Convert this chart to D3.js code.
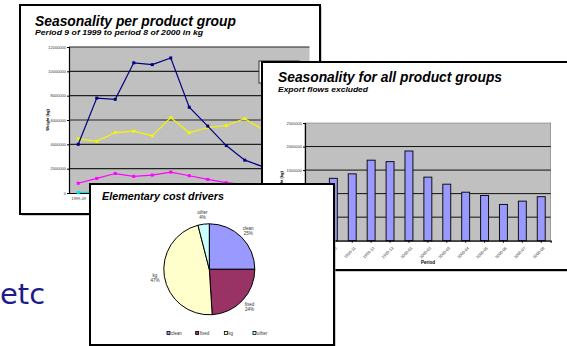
<!DOCTYPE html>
<html>
<head>
<meta charset="utf-8">
<script src="https://cdn.jsdelivr.net/npm/d3@7"></script>
<style>
  html, body { margin: 0; padding: 0; background: #fff; }
  svg { display: block; }
</style>
</head>
<body>
<script>
// Data
const periods = ["1999-09", "1999-10", "1999-11", "1999-12", "1999-13", "2000-01", "2000-02",
  "2000-03", "2000-04", "2000-05", "2000-06", "2000-07", "2000-08"];

// line chart: weight per product group (kg)
const groupNavy = [4.0, 7.8, 7.7, 10.7, 10.55, 11.1, 7.05, 5.5, 3.9, 2.7, 2.15, 1.6, 1.3].map(v => v * 1e6);
const groupYellow = [4.45, 4.25, 4.97, 5.08, 4.7, 6.2, 4.95, 5.38, 5.55, 6.1, 5.2, 5.6, 5.0].map(v => v * 1e6);
const groupMagenta = [0.8, 1.2, 1.6, 1.37, 1.47, 1.72, 1.42, 1.12, 0.85, 0.7, 0.6, 0.7, 0.6].map(v => v * 1e6);
const groupCyan = [0.05, 0.05, 0.05, 0.05, 0.05, 0.05, 0.05, 0.05, 0.05, 0.05, 0.05, 0.05, 0.05].map(v => v * 1e6);
const lineTicks = [0, 2000000, 4000000, 6000000, 8000000, 10000000, 12000000];

// bar chart: all product groups, export excluded (kg)
const totalWeight = [1.0, 1.325, 1.42, 1.71, 1.68, 1.905, 1.35, 1.2, 1.03, 0.96, 0.77, 0.84, 0.935].map(v => v * 1e6);
const barTicks = [0, 500000, 1000000, 1500000, 2000000, 2500000];

// pie: elementary cost drivers (%)
const drivers = ["clean", "fixed", "kg", "other"];
const driverShare = [25, 24, 47, 4];
const driverColors = ["#9999ff", "#993366", "#ffffcc", "#ccffff"];

const svg = d3.select("body")
  .append("svg")
    .attr("width", 567)
    .attr("height", 346);

const tiny = "Liberation Sans, Arial, sans-serif";

// a "slide": white card with thick black frame
function slide(x, y, w, h) {
  const g = svg.append("g");
  g.append("rect")
    .attr("x", x + 1.5).attr("y", y + 1.5)
    .attr("width", w).attr("height", h)
    .attr("fill", "#9a9a9a");
  g.append("rect")
    .attr("x", x).attr("y", y)
    .attr("width", w).attr("height", h)
    .attr("fill", "#fff")
    .attr("stroke", "#000")
    .attr("stroke-width", 2);
  return g;
}

function title(g, text, x, y, size, width) {
  g.append("text")
    .text(text)
    .attr("x", x).attr("y", y)
    .attr("textLength", width)
    .attr("lengthAdjust", "spacingAndGlyphs")
    .style("font-family", tiny)
    .style("font-weight", "bold")
    .style("font-style", "italic")
    .style("font-size", size + "px");
}

// ---------- Slide 1: line chart ----------
const s1 = slide(20, 5, 300, 209);
title(s1, "Seasonality per product group", 35, 26, 15, 201);
title(s1, "Period 9 of 1999 to period 8 of 2000 in kg", 35, 35, 8, 168);

const x1 = d3.scalePoint().domain(periods).range([69, 309.5]).padding(0.5);
const y1 = d3.scaleLinear().domain([0, 12000000]).range([193, 47]);

s1.append("rect")
  .attr("x", 69).attr("y", y1(12000000))
  .attr("width", 240.5).attr("height", y1(0) - y1(12000000))
  .attr("fill", "#c0c0c0");

s1.selectAll(".grid1")
  .data(lineTicks.slice(1))
  .join("line")
    .attr("x1", 69).attr("x2", 309.5)
    .attr("y1", d => y1(d)).attr("y2", d => y1(d))
    .attr("stroke", "#222")
    .attr("stroke-width", 1.2);

const axisY1 = s1.append("g")
  .attr("transform", "translate(69,0)")
  .call(d3.axisLeft(y1).tickValues(lineTicks).tickFormat(d3.format("d")).tickSize(2).tickPadding(1));
axisY1.select(".domain").attr("stroke-width", 1.2);
axisY1.selectAll("text").style("font-size", "4px").style("font-family", tiny).attr("fill", "#333");

// only the first period label shows; the rest sit under the pie slide
const axisX1 = s1.append("g")
  .attr("transform", "translate(0,193)")
  .call(d3.axisBottom(x1).tickSize(0).tickPadding(4).tickFormat((d, i) => i === 0 ? d : ""));
axisX1.select(".domain").attr("stroke-width", 1.2);
axisX1.selectAll("text").style("font-size", "4px").style("font-family", tiny).attr("fill", "#333");

s1.append("text")
  .text("Weight (kg)")
  .attr("transform", "translate(49,120) rotate(-90)")
  .attr("text-anchor", "middle")
  .style("font-family", tiny)
  .style("font-weight", "bold")
  .style("font-size", "4px");

const seriesList = [
  { values: groupCyan, color: "#00e5e5" },
  { values: groupMagenta, color: "#ff00ff" },
  { values: groupYellow, color: "#f5f500" },
  { values: groupNavy, color: "#000080" }
];
const lineGen = d3.line()
  .x((d, i) => x1(periods[i]))
  .y(d => y1(d));

seriesList.forEach(s => {
  s1.append("path")
    .attr("d", lineGen(s.values))
    .attr("fill", "none")
    .attr("stroke", s.color)
    .attr("stroke-width", 1.2);
  s1.selectAll(null)
    .data(s.values)
    .join("rect")
      .attr("x", (d, i) => x1(periods[i]) - 1.5)
      .attr("y", d => y1(d) - 1.5)
      .attr("width", 3).attr("height", 3)
      .attr("fill", s.color);
});

// legend box (mostly hidden)
s1.append("rect")
  .attr("x", 259).attr("y", 61)
  .attr("width", 40).attr("height", 22)
  .attr("fill", "#fff")
  .attr("stroke", "#333")
  .attr("stroke-width", 1);

// ---------- Slide 2: bar chart ----------
const s2 = slide(262, 62, 330, 208);
title(s2, "Seasonality for all product groups", 278, 82, 14, 224);
title(s2, "Export flows excluded", 278, 92, 8, 90);

const x2 = d3.scaleBand().domain(periods).range([305, 550.7]).paddingInner(0.58).paddingOuter(0.29);
const y2 = d3.scaleLinear().domain([0, 2500000]).range([240.7, 123]);

s2.append("rect")
  .attr("x", 305).attr("y", y2(2500000))
  .attr("width", 245.7).attr("height", y2(0) - y2(2500000))
  .attr("fill", "#c0c0c0")
  .attr("stroke", "#777")
  .attr("stroke-width", 0.6);

s2.selectAll(".grid2")
  .data(barTicks.slice(1, -1))
  .join("line")
    .attr("x1", 305).attr("x2", 550.7)
    .attr("y1", d => y2(d)).attr("y2", d => y2(d))
    .attr("stroke", "#111")
    .attr("stroke-width", 1);

s2.selectAll(".bar")
  .data(totalWeight)
  .join("rect")
    .attr("x", (d, i) => x2(periods[i]))
    .attr("y", d => y2(d))
    .attr("width", x2.bandwidth())
    .attr("height", d => y2(0) - y2(d))
    .attr("fill", "#9999ff")
    .attr("stroke", "#111")
    .attr("stroke-width", 1);

const axisY2 = s2.append("g")
  .attr("transform", "translate(305,0)")
  .call(d3.axisLeft(y2).tickValues(barTicks).tickFormat(d3.format("d")).tickSize(2).tickPadding(1));
axisY2.select(".domain").attr("stroke-width", 1.2);
axisY2.selectAll("text").style("font-size", "4px").style("font-family", tiny).attr("fill", "#333");

const axisX2 = s2.append("g")
  .attr("transform", "translate(0,240.7)")
  .call(d3.axisBottom(x2).tickSize(2).tickPadding(2));
axisX2.select(".domain").attr("stroke-width", 1.2);
axisX2.selectAll("text")
  .style("font-size", "4px").style("font-family", tiny).attr("fill", "#333")
  .attr("text-anchor", "end")
  .attr("dy", "0.3em")
  .attr("transform", "translate(0,4) rotate(-45)");

s2.append("text")
  .text("Period")
  .attr("x", 428).attr("y", 264)
  .attr("text-anchor", "middle")
  .style("font-family", tiny)
  .style("font-weight", "bold")
  .style("font-size", "4.5px");

s2.append("text")
  .text("Weight (kg)")
  .attr("transform", "translate(283,182) rotate(-90)")
  .attr("text-anchor", "middle")
  .style("font-family", tiny)
  .style("font-weight", "bold")
  .style("font-size", "4px");

// ---------- Slide 3: pie ----------
const s3 = slide(90, 184, 244, 161);
title(s3, "Elementary cost drivers", 102, 200, 11, 122);

const pieData = d3.pie().sort(null)(driverShare);
const arc = d3.arc().innerRadius(0).outerRadius(45.5);
const labelArc = d3.arc().innerRadius(55).outerRadius(55);
const pieG = s3.append("g").attr("transform", "translate(209.3,269.3)");

pieG.selectAll("path")
  .data(pieData)
  .join("path")
    .attr("d", arc)
    .attr("fill", (d, i) => driverColors[i])
    .attr("stroke", "#000")
    .attr("stroke-width", 1);

const pieLabels = pieG.selectAll(".plabel")
  .data(pieData)
  .join("text")
    .attr("transform", d => `translate(${labelArc.centroid(d)})`)
    .attr("text-anchor", "middle")
    .style("font-family", tiny)
    .style("font-size", "4.5px")
    .attr("fill", "#333");
pieLabels.append("tspan")
  .attr("x", 0).attr("dy", "-0.2em")
  .text((d, i) => drivers[i]);
pieLabels.append("tspan")
  .attr("x", 0).attr("dy", "1.2em")
  .text(d => d.data + "%");

const legendX = d3.scalePoint().domain(drivers).range([167, 253]);
const legend = s3.selectAll(".leg")
  .data(drivers)
  .join("g")
    .attr("transform", d => `translate(${legendX(d)},334)`);
legend.append("rect")
  .attr("x", 0).attr("y", -2.5)
  .attr("width", 3).attr("height", 3)
  .attr("fill", (d, i) => driverColors[i])
  .attr("stroke", "#000")
  .attr("stroke-width", 0.8);
legend.append("text")
  .text(d => d)
  .attr("x", 4).attr("y", 1)
  .style("font-family", tiny)
  .style("font-size", "4.5px")
  .attr("fill", "#333");

// ---------- "etc" ----------
svg.append("text")
  .text("etc")
  .attr("x", 0).attr("y", 304)
  .style("font-family", "DejaVu Sans, Verdana, sans-serif")
  .style("font-size", "29px")
  .attr("fill", "#1c1c8a");
</script>
</body>
</html>
